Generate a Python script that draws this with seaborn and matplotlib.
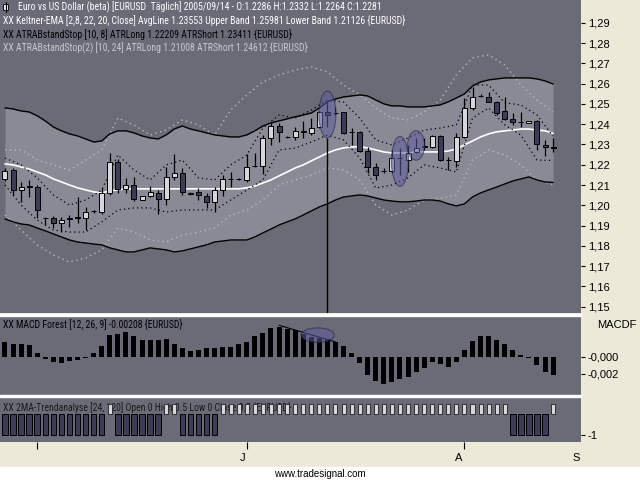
import os
import numpy as np
import matplotlib
matplotlib.use('Agg')
import matplotlib.pyplot as plt
from matplotlib import font_manager as fm
from matplotlib.patches import Ellipse, Rectangle
from matplotlib.lines import Line2D
from matplotlib.transforms import blended_transform_factory
import seaborn as sns

# EURUSD daily candles, oldest first
opens = [1.2130, 1.2174, 1.2076, 1.2095, 1.2090, 1.1938, 1.1938, 1.1913, 1.1933, 1.1940,
         1.1938, 1.1971, 1.1967, 1.2061, 1.2214, 1.2081, 1.2100, 1.2026, 1.2046, 1.2061,
         1.2031, 1.2140, 1.2159, 1.2055, 1.2066, 1.2046, 1.2017, 1.2076, 1.2130, 1.2132,
         1.2125, 1.2192, 1.2194, 1.2332, 1.2391, 1.2337, 1.2335, 1.2362, 1.2357, 1.2386,
         1.2460, 1.2455, 1.2460, 1.2362, 1.2362, 1.2268, 1.2189, 1.2169, 1.2169, 1.2233,
         1.2224, 1.2263, 1.2288, 1.2288, 1.2342, 1.2224, 1.2219, 1.2337, 1.2480, 1.2537,
         1.2534, 1.2510, 1.2465, 1.2426, 1.2411, 1.2406, 1.2416, 1.2298, 1.2286]
highs = [1.2184, 1.2184, 1.2115, 1.2125, 1.2100, 1.1943, 1.1948, 1.1943, 1.1952, 1.2041,
         1.1992, 1.1977, 1.2086, 1.2258, 1.2229, 1.2135, 1.2140, 1.2046, 1.2095, 1.2076,
         1.2189, 1.2253, 1.2184, 1.2066, 1.2086, 1.2061, 1.2090, 1.2150, 1.2164, 1.2135,
         1.2253, 1.2258, 1.2347, 1.2406, 1.2406, 1.2342, 1.2386, 1.2416, 1.2431, 1.2465,
         1.2510, 1.2485, 1.2462, 1.2381, 1.2367, 1.2288, 1.2209, 1.2184, 1.2273, 1.2283,
         1.2298, 1.2332, 1.2332, 1.2347, 1.2347, 1.2238, 1.2357, 1.2529, 1.2583, 1.2549,
         1.2559, 1.2514, 1.2534, 1.2455, 1.2460, 1.2416, 1.2421, 1.2322, 1.2332]
lows = [1.2120, 1.2051, 1.2017, 1.2041, 1.1938, 1.1903, 1.1888, 1.1869, 1.1893, 1.1913,
        1.1879, 1.1962, 1.1957, 1.2051, 1.2061, 1.2061, 1.2021, 1.2026, 1.2041, 1.1957,
        1.2002, 1.2125, 1.2051, 1.2051, 1.2026, 1.1987, 1.1967, 1.2046, 1.2090, 1.2127,
        1.2115, 1.2189, 1.2155, 1.2298, 1.2312, 1.2332, 1.2322, 1.2332, 1.2347, 1.2381,
        1.2386, 1.2445, 1.2352, 1.2298, 1.2263, 1.2159, 1.2125, 1.2159, 1.2159, 1.2150,
        1.2164, 1.2258, 1.2273, 1.2283, 1.2219, 1.2174, 1.2189, 1.2332, 1.2470, 1.2534,
        1.2510, 1.2445, 1.2421, 1.2396, 1.2386, 1.2406, 1.2273, 1.2243, 1.2264]
closes = [1.2169, 1.2076, 1.2090, 1.2090, 1.1977, 1.1936, 1.1913, 1.1928, 1.1935, 1.1938,
          1.1967, 1.1973, 1.2061, 1.2214, 1.2081, 1.2100, 1.2031, 1.2046, 1.2066, 1.2031,
          1.2140, 1.2159, 1.2066, 1.2062, 1.2051, 1.2017, 1.2076, 1.2130, 1.2132, 1.2130,
          1.2189, 1.2194, 1.2332, 1.2391, 1.2362, 1.2335, 1.2367, 1.2364, 1.2381, 1.2460,
          1.2445, 1.2457, 1.2357, 1.2360, 1.2268, 1.2189, 1.2150, 1.2171, 1.2233, 1.2231,
          1.2258, 1.2283, 1.2290, 1.2342, 1.2224, 1.2222, 1.2337, 1.2480, 1.2534, 1.2539,
          1.2510, 1.2455, 1.2426, 1.2411, 1.2409, 1.2416, 1.2302, 1.2288, 1.2281]

# Keltner-EMA bands
kc_upper = [1.2480, 1.2475, 1.2465, 1.2460, 1.2441, 1.2416, 1.2386, 1.2367, 1.2352, 1.2342,
            1.2327, 1.2312, 1.2317, 1.2352, 1.2367, 1.2367, 1.2357, 1.2342, 1.2332, 1.2327,
            1.2347, 1.2376, 1.2391, 1.2376, 1.2367, 1.2357, 1.2347, 1.2342, 1.2337, 1.2337,
            1.2347, 1.2367, 1.2391, 1.2406, 1.2416, 1.2426, 1.2436, 1.2445, 1.2455, 1.2480,
            1.2510, 1.2524, 1.2534, 1.2539, 1.2544, 1.2539, 1.2519, 1.2500, 1.2490, 1.2490,
            1.2485, 1.2485, 1.2485, 1.2490, 1.2495, 1.2510, 1.2529, 1.2549, 1.2588, 1.2608,
            1.2618, 1.2623, 1.2628, 1.2628, 1.2628, 1.2628, 1.2623, 1.2613, 1.2598]
kc_lower = [1.1933, 1.1918, 1.1908, 1.1903, 1.1888, 1.1874, 1.1859, 1.1844, 1.1829, 1.1819,
            1.1814, 1.1809, 1.1805, 1.1790, 1.1780, 1.1770, 1.1770, 1.1780, 1.1790, 1.1785,
            1.1780, 1.1770, 1.1775, 1.1785, 1.1795, 1.1805, 1.1819, 1.1824, 1.1829, 1.1829,
            1.1829, 1.1844, 1.1864, 1.1883, 1.1903, 1.1918, 1.1933, 1.1952, 1.1972, 1.1992,
            1.2007, 1.2026, 1.2041, 1.2046, 1.2051, 1.2046, 1.2036, 1.2026, 1.2021, 1.2017,
            1.2017, 1.2021, 1.2026, 1.2026, 1.2021, 1.2007, 1.1997, 1.2007, 1.2041, 1.2061,
            1.2076, 1.2090, 1.2105, 1.2120, 1.2130, 1.2140, 1.2125, 1.2115, 1.2113]
kc_avg = [1.2204, 1.2199, 1.2189, 1.2179, 1.2164, 1.2150, 1.2130, 1.2115, 1.2100, 1.2086,
          1.2076, 1.2066, 1.2061, 1.2071, 1.2076, 1.2081, 1.2081, 1.2081, 1.2081, 1.2081,
          1.2081, 1.2081, 1.2081, 1.2081, 1.2081, 1.2081, 1.2081, 1.2081, 1.2081, 1.2081,
          1.2086, 1.2095, 1.2110, 1.2125, 1.2145, 1.2164, 1.2184, 1.2199, 1.2219, 1.2238,
          1.2258, 1.2273, 1.2283, 1.2288, 1.2288, 1.2283, 1.2273, 1.2263, 1.2258, 1.2258,
          1.2258, 1.2263, 1.2263, 1.2263, 1.2263, 1.2268, 1.2278, 1.2298, 1.2317, 1.2337,
          1.2352, 1.2362, 1.2367, 1.2371, 1.2376, 1.2376, 1.2371, 1.2367, 1.2355]

# ATR stops, read every second bar
atr_idx = list(range(0, 69, 2))
atr8_short = [1.2233, 1.2199, 1.2135, 1.2051, 1.2001, 1.2026, 1.2075, 1.2248, 1.2174, 1.2125,
              1.2199, 1.2223, 1.2135, 1.2125, 1.2199, 1.2248, 1.2381, 1.2445, 1.2430, 1.2470,
              1.2519, 1.2509, 1.2430, 1.2322, 1.2297, 1.2332, 1.2371, 1.2381, 1.2396, 1.2593,
              1.2593, 1.2505, 1.2495, 1.2445, 1.2341]
atr8_long = [1.2100, 1.2001, 1.1927, 1.1878, 1.1868, 1.1868, 1.1918, 1.1977, 1.1987, 1.1987,
             1.1967, 1.1977, 1.1977, 1.1977, 1.2026, 1.2075, 1.2125, 1.2273, 1.2282, 1.2312,
             1.2346, 1.2322, 1.2233, 1.2085, 1.2100, 1.2135, 1.2199, 1.2184, 1.2164, 1.2430,
             1.2480, 1.2396, 1.2346, 1.2223, 1.2221]
atr24_short = [1.2273, 1.2273, 1.2223, 1.2199, 1.2174, 1.2223, 1.2273, 1.2430, 1.2396, 1.2346,
               1.2371, 1.2421, 1.2396, 1.2346, 1.2470, 1.2544, 1.2608, 1.2643, 1.2667, 1.2682,
               1.2657, 1.2593, 1.2544, 1.2480, 1.2430, 1.2421, 1.2460, 1.2519, 1.2643, 1.2727,
               1.2741, 1.2692, 1.2593, 1.2519, 1.2461]
atr24_long = [1.1952, 1.1878, 1.1804, 1.1755, 1.1720, 1.1740, 1.1780, 1.1888, 1.1868, 1.1829,
              1.1819, 1.1853, 1.1868, 1.1888, 1.1952, 1.1977, 1.2026, 1.2100, 1.2125, 1.2149,
              1.2184, 1.2174, 1.2125, 1.2001, 1.1952, 1.1977, 1.2026, 1.2036, 1.2051, 1.2223,
              1.2273, 1.2248, 1.2199, 1.2125, 1.2101]

# MACD Forest histogram
macd = [0.00176, 0.00157, 0.00157, 0.00145, 0.00047, -0.00019, -0.00058, -0.00066, -0.00051, -0.00031,
        -0.00011, 0.00047, 0.00125, 0.00255, 0.00275, 0.00290, 0.00243, 0.00204, 0.00196, 0.00204,
        0.00212, 0.00157, 0.00106, 0.00071, 0.00086, 0.00110, 0.00110, 0.00118, 0.00118, 0.00157,
        0.00176, 0.00243, 0.00282, 0.00345, 0.00353, 0.00333, 0.00314, 0.00270, 0.00235, 0.00227,
        0.00216, 0.00176, 0.00125, 0.00047, -0.00070, -0.00216, -0.00282, -0.00322, -0.00294, -0.00255,
        -0.00235, -0.00176, -0.00125, -0.00058, -0.00078, -0.00118, -0.00058, 0.00078, 0.00188, 0.00243,
        0.00243, 0.00196, 0.00157, 0.00078, 0.00027, -0.00010, -0.00098, -0.00176, -0.00208]

# 2MA trend analysis
trend = [-1, -1, -1, -1, -1, -1, -1, -1, -1, -1, -1, -1, -1, 0.5, -1, -1, -1, -1, -1, -1,
         0.5, 0.5, -1, -1, -1, -1, -1, 0.5, 0.5, 0.5, 0.5, 0.5, 0.5, 0.5, 0.5, 0.5, 0.5, 0.5, 0.5, 0.5,
         0.5, 0.5, 0.5, 0.5, 0.5, 0.5, 0.5, 0.5, 0.5, 0.5, 0.5, 0.5, 0.5, 0.5, 0.5, 0.5, 0.5, 0.5, 0.5, 0.5,
         0.5, 0.5, 0.5, -1, -1, -1, -1, -1, 0.5]

price_ticks = [1.15, 1.16, 1.17, 1.18, 1.19, 1.20, 1.21, 1.22, 1.23, 1.24, 1.25, 1.26, 1.27, 1.28, 1.29]
month_ticks = [4, 30, 57]
month_labels = ['J', 'A', 'S']
month_label_pos = [29.5, 56.3, 70.8]
marked_bars = [40, 49, 51]
macd_mark = 39
macd_trend = [34, 41]

BG = '#6b6b78'
BAND = '#8a8a96'
BEIGE = '#ece9d8'
UP = '#d6d6dc'
DOWN = '#3c3c58'

sns.set_theme(style='white')
plt.rcParams['font.family'] = ['Liberation Sans', 'DejaVu Sans']


def pick_narrow():
    # the caption font of the original is a narrow sans; use any installed narrow/condensed sans
    bad = ('Bold', 'Italic', 'Oblique', 'Light', 'Thin', 'Black', 'Medium', 'Heavy', 'Mono', 'Serif', 'Extra')
    good = []
    for f in fm.fontManager.ttflist:
        base = os.path.basename(f.fname)
        if any(b in base for b in bad) or f.style != 'normal':
            continue
        narrow = ('Narrow' in base or 'Condensed' in base or 'Narrow' in f.name or 'Condensed' in f.name
                  or f.stretch in ('condensed', 'semi-condensed'))
        if narrow:
            good.append(f)
    order = ['Liberation Sans Narrow', 'Arial Narrow', 'Roboto Condensed', 'Noto Sans', 'DejaVu Sans']
    good.sort(key=lambda f: next((k for k, n in enumerate(order) if f.name.startswith(n)), 99))
    return good[0].fname if good else None


narrow_file = pick_narrow()
if narrow_file:
    CAP = dict(fontproperties=fm.FontProperties(fname=narrow_file))
    CAP_W = 402
else:
    CAP = dict(family=['Liberation Sans', 'DejaVu Sans'])
    CAP_W = 440

W, H = 640, 480
fig = plt.figure(figsize=(6.4, 4.8), dpi=100, facecolor=BEIGE)


def px_axes(x0, y0, x1, y1):
    return fig.add_axes([x0 / W, 1 - y1 / H, (x1 - x0) / W, (y1 - y0) / H])


ax = px_axes(0, 0, 581, 313)
ax_m = px_axes(0, 316, 581, 395)
ax_t = px_axes(0, 397, 581, 442)

x = np.arange(len(closes))
o = np.array(opens)
c = np.array(closes)

for a in (ax, ax_m, ax_t):
    a.set_facecolor(BG)
    a.set_xlim(-0.62, 71.46)
    for s in a.spines.values():
        s.set_visible(False)
    a.set_xticks([])
    a.yaxis.tick_right()
    a.tick_params(axis='y', right=True, direction='out', length=3, width=0.8,
                  colors='black', pad=2, labelsize=8)

# --- price panel ---
ax.fill_between(x, kc_lower, kc_upper, color=BAND, lw=0, zorder=1)
sns.lineplot(x=atr_idx, y=atr24_short, ax=ax, color='#b8b8c4', lw=1, linestyle=(0, (1, 2.5)), zorder=2)
sns.lineplot(x=atr_idx, y=atr24_long, ax=ax, color='#b8b8c4', lw=1, linestyle=(0, (1, 2.5)), zorder=2)
sns.lineplot(x=x, y=kc_upper, ax=ax, color='black', lw=1, zorder=3)
sns.lineplot(x=x, y=kc_lower, ax=ax, color='black', lw=1, zorder=3)
sns.lineplot(x=x, y=kc_avg, ax=ax, color='white', lw=1.2, zorder=3)
sns.lineplot(x=atr_idx, y=atr8_short, ax=ax, color='black', lw=0.9, linestyle=(0, (1, 2.5)), zorder=3)
sns.lineplot(x=atr_idx, y=atr8_long, ax=ax, color='black', lw=0.9, linestyle=(0, (1, 2.5)), zorder=3)

ax.vlines(x, lows, highs, color='black', lw=0.9, zorder=5)
body_lo = np.minimum(o, c)
body_h = np.maximum(np.abs(c - o), 0.0002)
ax.bar(x, body_h, bottom=body_lo, width=0.62,
       color=[UP if cc >= oo else DOWN for oo, cc in zip(o, c)],
       edgecolor='black', lw=0.7, zorder=6)

ymin, ymax = 1.1469, 1.3012
for i in marked_bars:
    mid = (highs[i] + lows[i]) / 2
    hgt = (highs[i] - lows[i]) * 1.7 + 0.002
    ax.add_patch(Ellipse((i, mid), 2.1, hgt, facecolor='#5c5c9c', alpha=0.55,
                         edgecolor='#1e1e40', lw=0.8, zorder=7))
first = marked_bars[0]
ax.vlines(first, ymin, (highs[first] + lows[first]) / 2 - ((highs[first] - lows[first]) * 1.7 + 0.002) / 2,
          color='black', lw=1, zorder=7)

ax.set_ylim(ymin, ymax)
ax.set_yticks(price_ticks)
ax.set_yticklabels([f'{t:.2f}'.replace('.', ',') for t in price_ticks])
ax.set_xlabel('')
ax.set_ylabel('')

# --- MACD panel ---
ax_m.bar(x, macd, width=0.62, color='black', lw=0, zorder=3)
ax_m.plot(macd_trend, [macd[macd_trend[0]] + 0.0002, macd[macd_trend[1]]], color='black', lw=0.8, zorder=4)
ax_m.add_patch(Ellipse((macd_mark - 0.2, macd[macd_mark] + 0.0003), 4.1, 0.0017, facecolor='#5c5c9c',
                       alpha=0.55, edgecolor='#1e1e40', lw=0.8, zorder=5))
ax_m.set_ylim(-0.00447, 0.00482)
ax_m.set_yticks([0, -0.002])
ax_m.set_yticklabels(['-0,000', '-0,002'])
fig.text(617 / W, 1 - 325 / H, 'MACDF', ha='center', va='center', fontsize=8, color='black')

# --- trend panel ---
tr = np.array(trend)
neg = tr < 0
ax_t.bar(x[neg], tr[neg], width=0.68, color=DOWN, edgecolor='black', lw=0.7, zorder=3)
ax_t.bar(x[~neg], tr[~neg], width=0.5, color=UP, edgecolor='#303030', lw=0.7, zorder=3)
ax_t.set_ylim(-1.33, 0.81)
ax_t.set_yticks([-1])
ax_t.set_yticklabels(['-1'])
ax_t.set_xticks(month_ticks)
ax_t.set_xticklabels([])
ax_t.tick_params(axis='x', bottom=True, direction='out', length=5, width=0.8, colors='black')
tb = blended_transform_factory(ax_t.transData, fig.transFigure)
for pos, lab in zip(month_label_pos, month_labels):
    ax_t.text(pos, 1 - 458 / H, lab, transform=tb, ha='center', va='center', fontsize=8,
              color='black', clip_on=False)

# --- captions: (text, colour, left px, centre y px, axes to sit in) ---
captions = [
    ('Euro vs US Dollar (beta) [EURUSD  T\u00e4glich] 2005/09/14 - '
     f'O:{opens[-1]:.4f} H:{highs[-1]:.4f} L:{lows[-1]:.4f} C:{closes[-1]:.4f}', 'white', 18, 7, ax),
    ('XX Keltner-EMA [2,8, 22, 20, Close] AvgLine 1.23553 Upper Band 1.25981 Lower Band 1.21126 {EURUSD}',
     'white', 3, 20.5, ax),
    ('XX ATRABstandStop [10, 8] ATRLong 1.22209 ATRShort 1.23411 {EURUSD}', 'black', 3, 34, ax),
    ('XX ATRABstandStop(2) [10, 24] ATRLong 1.21008 ATRShort 1.24612 {EURUSD}', '#c8c8d0', 3, 47, ax),
    (f'XX MACD Forest [12, 26, 9] {macd[-1]:.5f} {{EURUSD}}', 'black', 3, 324, ax_m),
    ('XX 2MA-Trendanalyse [24, 120] Open 0 High 0.5 Low 0 Close 0.5 {EURUSD}', '#1a1a1a', 3, 407, ax_t),
]
cap_texts = []
for txt, col, px, py, a in captions:
    t = a.text(px / W, 1 - py / H, txt, transform=fig.transFigure, ha='left', va='center',
               color=col, zorder=8 if a is ax else 1, clip_on=False, **CAP)
    t.set_fontsize(8)
    cap_texts.append(t)

# size the captions so the Keltner line ends about where it does in the original
fig.canvas.draw()
rend = fig.canvas.get_renderer()
w2 = cap_texts[1].get_window_extent(rend).width
size = min(8.5, 8 * CAP_W / w2)
for t in cap_texts:
    t.set_fontsize(size)

# small candle icon before the title
fig.add_artist(Line2D([5.5 / W, 5.5 / W], [1 - 2 / H, 1 - 12 / H], color='black', lw=0.8))
fig.add_artist(Rectangle((3 / W, 1 - 10 / H), 5 / W, 6 / H, facecolor='#e8e8e8', edgecolor='black',
                         lw=0.6, transform=fig.transFigure))

# panel separators and footer strip
fig.add_artist(Rectangle((0, 1 - 316 / H), 581 / W, 2 / H, color='white', transform=fig.transFigure))
fig.add_artist(Rectangle((0, 1 - 397 / H), 581 / W, 2 / H, color='white', transform=fig.transFigure))
fig.add_artist(Rectangle((0, 0), 1, 13 / H, color='white', transform=fig.transFigure))
fig.text(0.5, 1 - 474 / H, 'www.tradesignal.com', ha='center', va='center', fontsize=7, color='black')

fig.savefig('out.png', dpi=100, facecolor=BEIGE)
